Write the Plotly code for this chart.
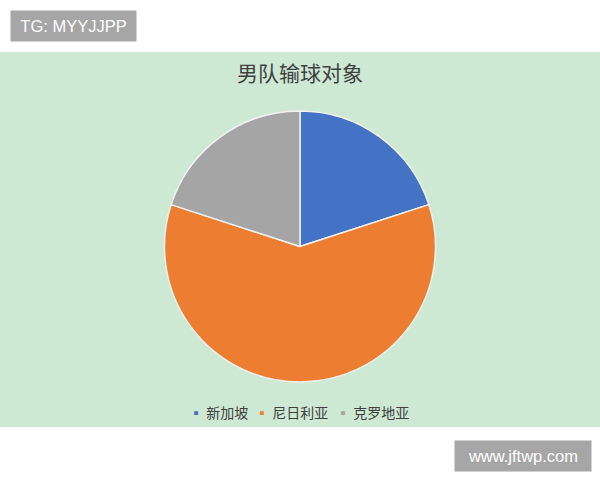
import plotly.graph_objects as go

# opponents the men's team lost to
teams = ["新加坡", "尼日利亚", "克罗地亚"]
losses = [1, 3, 1]
colors = ["#4472C4", "#ED7D31", "#A5A5A5"]

W, H = 600, 480


def py(px):
    # pixel row -> paper y (margins are zero)
    return 1 - px / H


fig = go.Figure()
fig.add_trace(go.Pie(
    labels=teams,
    values=losses,
    sort=False,
    direction="clockwise",
    rotation=0,
    textinfo="none",
    hoverinfo="label+value+percent",
    marker=dict(colors=colors, line=dict(color="#F2F2F2", width=1.5)),
    domain=dict(x=[0, 1], y=[py(382), py(111)]),
    showlegend=False,
))

# green chart area
shapes = [
    dict(type="rect", xref="paper", yref="paper", x0=0, x1=1, y0=py(427), y1=py(52),
         fillcolor="#CDE9D3", line=dict(width=0), layer="below"),
]

wm_font = dict(size=16.5, color="white", family="Liberation Sans, Arial")
annotations = [
    dict(text="TG: MYYJJPP", x=10 / W, y=py(10), xref="paper", yref="paper",
         xanchor="left", yanchor="top", width=125, height=30, bgcolor="#A6A6A6",
         borderpad=0, showarrow=False, font=wm_font),
    dict(text="www.jftwp.com", x=454 / W, y=py(440), xref="paper", yref="paper",
         xanchor="left", yanchor="top", width=136, height=30, bgcolor="#A6A6A6",
         borderpad=0, showarrow=False, font=wm_font),
]

# small-square legend, one entry per slice
legend_x = [187, 253, 334]
for name, col, lx in zip(teams, colors, legend_x):
    annotations.append(dict(
        text=f"<span style='color:{col}'>▪</span> {name}",
        x=lx / W, y=py(412), xref="paper", yref="paper",
        xanchor="left", yanchor="middle", showarrow=False,
        font=dict(size=14, color="#404040", family="Noto Sans CJK SC"),
    ))

fig.update_layout(
    width=W,
    height=H,
    margin=dict(l=0, r=0, t=0, b=0),
    paper_bgcolor="white",
    plot_bgcolor="white",
    font=dict(family="Noto Sans CJK SC", color="#404040"),
    title=dict(text="男队输球对象", x=0.5, xanchor="center", y=py(74), yanchor="middle",
               font=dict(size=21, color="#404040", family="Noto Sans CJK SC")),
    showlegend=False,
    shapes=shapes,
    annotations=annotations,
)

fig.write_html("out.html", config={"displayModeBar": False},
               post_script="document.body.style.margin='0';")
